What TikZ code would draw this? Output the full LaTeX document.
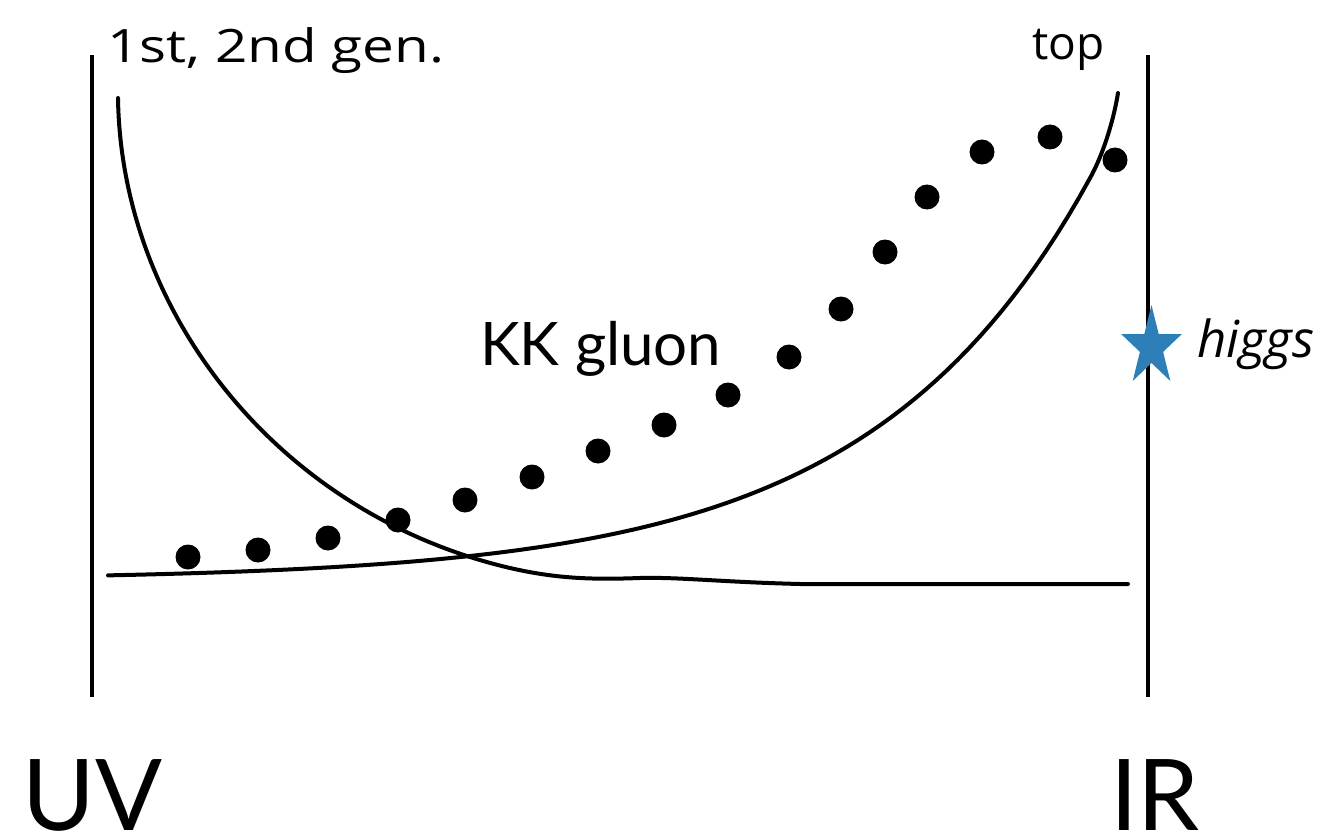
\documentclass[tikz,border=0pt]{standalone}
\usepackage{fontspec}
\usepackage{graphicx}
\setmainfont{Lato}
\newfontfamily\handfont{Open Sans}
\definecolor{starblue}{RGB}{46,126,184}
\tikzset{
  wall/.style={line width=4.5pt, line cap=butt},
  curve/.style={line width=4pt, line cap=round, line join=round},
  kkdot/.style={fill=black},
  bigtag/.style={font=\fontsize{99}{108}\selectfont, inner sep=0pt},
  midtag/.style={font=\fontsize{60}{66}\selectfont, inner sep=0pt},
  handtag/.style={font=\handfont\fontsize{46}{50}\selectfont, inner sep=0pt},
}
\begin{document}
\begin{tikzpicture}[x=1pt,y=-1pt]
\useasboundingbox (0,0) rectangle (1323,840);
% walls
\draw[wall] (92,55) -- (92,697);
\draw[wall] (1148,55) -- (1148,697);
% decreasing curve (1st, 2nd gen.)
\draw[curve] (118,98) .. controls (121,300) and (260,490) .. (470,557)
  .. controls (540,579) and (585,580) .. (640,578)
  .. controls (680,577) and (720,582) .. (800,584) -- (1128,584);
% increasing curve (top)
\draw[curve] plot[domain=108:1090, samples=90] (\x, {580-24*exp((\x-470)/220)})
  .. controls (1104,153) and (1114,118) .. (1118,93);
% KK gluon dots
\foreach \p in {(188,557),(258,550),(328,538),(398,520),(465,500),
  (532,477),(598,451),(664,425),(728,395),(789,357),(841,309),(885,252),
  (927,197),(982,152),(1050,137),(1115,160)}
  \fill[kkdot] \p circle (12.5);
% higgs star
\fill[starblue, shift={(1151.5,347)}]
  (0,-42) -- (7.2,-12.9) -- (30.4,-13) -- (11.6,4.9) -- (18.8,34)
  -- (0,16) -- (-18.8,34) -- (-11.6,4.9) -- (-30.4,-13) -- (-7.2,-12.9) -- cycle;
% labels
\node[bigtag, anchor=base west] (uv) at (22,830) {UV};
\node[bigtag, anchor=base west] (ir) at (1110,830) {IR};
\node[midtag, anchor=base west] (kk) at (480,365) {KK gluon};
\node[handtag, anchor=base west] (gen) at (107,63) {\scalebox{1.23}[1]{1st, 2nd gen.}};
\node[handtag, anchor=base west] (top) at (1032,60) {top};
\node[handtag, font=\handfont\itshape\fontsize{51}{56}\selectfont, anchor=base west] (higgs) at (1197,357) {higgs};
\end{tikzpicture}
\end{document}
